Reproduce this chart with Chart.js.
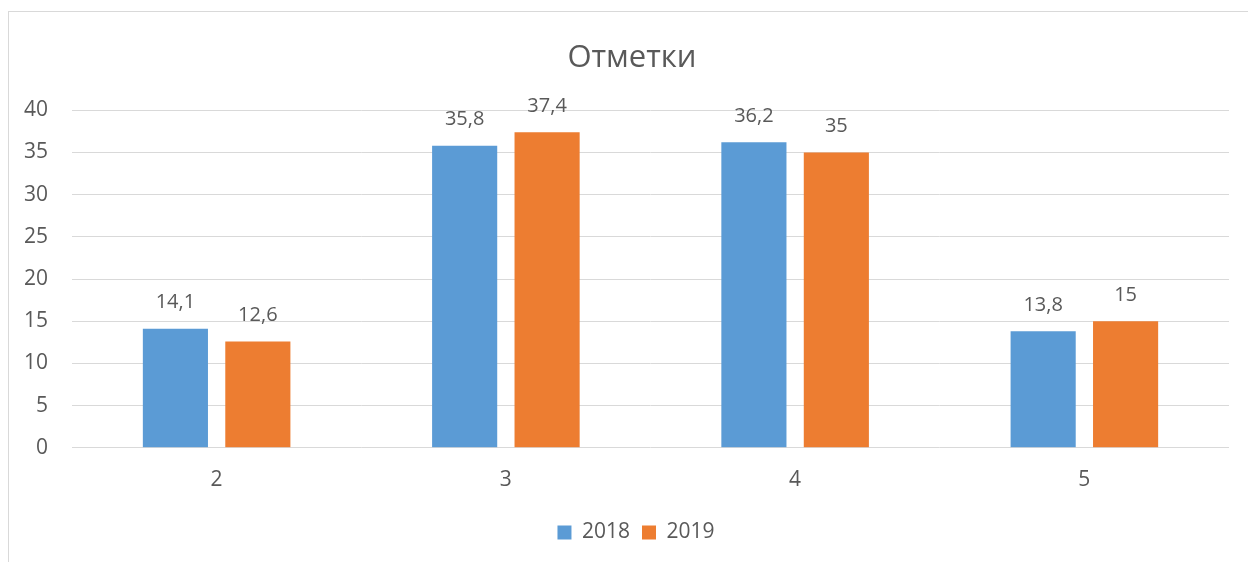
<!DOCTYPE html>
<html>
<head>
<meta charset="utf-8">
<script src="https://cdn.jsdelivr.net/npm/chart.js@4"></script>
<style>
  html, body { margin: 0; padding: 0; background: #fff; }
  #frame {
    position: absolute; left: 8px; top: 11px; width: 1240px; height: 551px;
    border-left: 1px solid #d9d9d9; border-top: 1px solid #d9d9d9;
  }
</style>
</head>
<body>
<div id="frame"><canvas id="marksChart"></canvas></div>
<script>
const categories = ['2', '3', '4', '5'];
const values2018 = [14.1, 35.8, 36.2, 13.8];
const values2019 = [12.6, 37.4, 35, 15];
const yTicks = [0, 5, 10, 15, 20, 25, 30, 35, 40];

const textColor = '#595959';
const font = "'Open Sans', sans-serif";

// draws value labels above each bar, with a comma as decimal mark
const barLabels = {
    id: 'barLabels',
    afterLayout(chart) {
        // title and legend are centred a bit right of the canvas middle
        chart.titleBlock.left = chart.chartArea.left - 37;
        chart.legend.left = chart.chartArea.left - 29;
    },
    afterDatasetsDraw(chart) {
        const c = chart.ctx;
        c.save();
        c.font = '20px ' + font;
        c.fillStyle = textColor;
        c.textAlign = 'center';
        c.textBaseline = 'middle';
        chart.data.datasets.forEach((ds, i) => {
            chart.getDatasetMeta(i).data.forEach((bar, j) => {
                c.fillText(String(ds.data[j]).replace('.', ','), bar.x, bar.y - 26);
            });
        });
        c.restore();
    }
};

const ctx = document.getElementById('marksChart').getContext('2d');
const marksChart = new Chart(ctx, {
    type: 'bar',
    data: {
        labels: categories,
        datasets: [{
            label: '2018',
            data: values2018,
            backgroundColor: '#5b9bd5'
        }, {
            label: '2019',
            data: values2019,
            backgroundColor: '#ed7d31'
        }]
    },
    options: {
        responsive: true,
        maintainAspectRatio: false,
        animation: false,
        categoryPercentage: 0.57,
        barPercentage: 0.79,
        layout: {
            padding: { left: 12, right: 20, top: 10, bottom: 10 }
        },
        plugins: {
            title: {
                display: true,
                text: 'Отметки',
                color: textColor,
                font: { family: font, size: 31, weight: 'normal' },
                padding: { top: 18, bottom: 33 }
            },
            legend: {
                position: 'bottom',
                labels: {
                    color: textColor,
                    font: { family: font, size: 21 },
                    boxWidth: 14,
                    boxHeight: 14,
                    padding: 12
                }
            },
            tooltip: { enabled: false }
        },
        scales: {
            x: {
                grid: { display: false },
                border: { display: false },
                afterFit: axis => {
                    axis.height += 5;
                },
                ticks: {
                    color: textColor,
                    font: { family: font, size: 21 },
                    padding: 12
                }
            },
            y: {
                min: 0,
                max: 40,
                afterBuildTicks: axis => {
                    axis.ticks = yTicks.map(v => ({ value: v }));
                },
                afterFit: axis => {
                    axis.width = 51;
                },
                grid: { color: '#d9d9d9', drawTicks: false },
                border: { display: false },
                ticks: {
                    color: textColor,
                    font: { family: font, size: 21 },
                    padding: 24
                }
            }
        }
    },
    plugins: [barLabels]
});
</script>
</body>
</html>
